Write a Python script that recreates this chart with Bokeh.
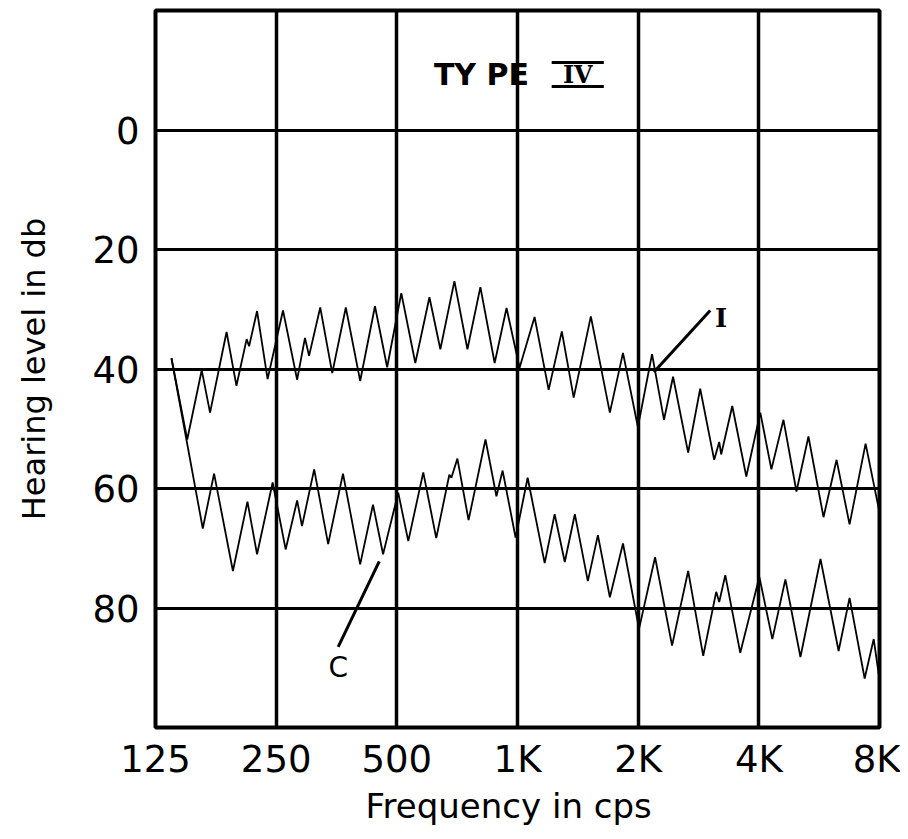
from bokeh.plotting import figure
from bokeh.models import FixedTicker, Range1d, Label, Title, Segment, ColumnDataSource
from bokeh.embed import file_html
from bokeh.resources import INLINE

# ---- data (frequency in cps, hearing level in dB) ----
x_ticks = [125, 250, 500, 1000, 2000, 4000, 8000]
x_tick_labels = ["125", "250", "500", "1K", "2K", "4K", "8K"]
y_ticks = [0, 20, 40, 60, 80]

# Interrupted-tone tracing ("I")
i_freq = [137, 150, 163, 171, 188, 199, 211, 214, 224, 238, 260, 282, 295, 302, 322, 345,
          373, 405, 441, 473, 513, 556, 603, 642, 696, 750, 808, 877, 939, 1012, 1103, 1196,
          1290, 1381, 1524, 1700, 1833, 1997, 2166, 2320, 2444, 2665, 2856, 3095, 3186, 3222,
          3434, 3722, 4034, 4299, 4608, 4965, 5319, 5800, 6251, 6736, 7386, 8000]
i_db = [38.2, 51.8, 40.2, 47.3, 33.8, 42.8, 35.0, 36.2, 30.3, 41.7, 30.2, 41.8, 34.8, 37.8, 29.7, 40.7,
        29.7, 42.0, 29.5, 39.7, 27.3, 39.0, 28.0, 36.7, 25.3, 36.7, 26.3, 39.0, 29.8, 39.8, 31.3, 43.5,
        33.7, 44.8, 31.2, 47.3, 37.3, 49.7, 37.5, 48.5, 41.3, 54.0, 43.3, 55.2, 52.2, 54.3,
        46.2, 58.0, 47.3, 56.8, 48.5, 60.5, 51.3, 64.8, 55.2, 66.0, 52.5, 64.0]

# Continuous-tone tracing ("C")
c_freq = [137, 164, 175, 195, 212, 224, 245, 264, 282, 290, 311, 337, 367, 405, 436, 462,
          504, 534, 582, 627, 676, 684, 708, 755, 832, 886, 918, 989, 1060, 1169, 1238, 1312,
          1390, 1498, 1587, 1700, 1833, 2010, 2204, 2430, 2665, 2906, 3131, 3186, 3299, 3595,
          4012, 4323, 4659, 5080, 5700, 6325, 6736, 7346, 7738, 8000]
c_db = [38.2, 66.7, 57.5, 73.8, 62.2, 71.0, 59.0, 70.2, 62.0, 66.3, 56.8, 69.3, 57.5, 72.7, 62.7, 71.0,
        60.7, 68.8, 57.3, 68.3, 57.7, 58.2, 55.0, 65.3, 51.8, 61.3, 57.0, 68.2, 58.2, 72.5, 64.3, 72.3,
        64.3, 75.5, 67.8, 78.2, 69.2, 83.5, 71.5, 86.3, 73.8, 88.0, 77.3, 79.0, 74.5, 87.5,
        74.8, 85.2, 75.2, 88.2, 71.8, 87.2, 78.3, 91.8, 85.2, 92.0]

FONT = "DejaVu Sans"

p = figure(width=900, height=831, x_axis_type="log",
           x_range=Range1d(125, 8000), y_range=Range1d(100, -20),
           output_backend="svg", toolbar_location=None,
           min_border_left=155, min_border_right=21, min_border_top=10, min_border_bottom=104)

p.background_fill_color = "white"
p.border_fill_color = "white"
p.outline_line_color = "black"
p.outline_line_width = 4

# grids
p.xgrid.ticker = FixedTicker(ticks=x_ticks)
p.ygrid.ticker = FixedTicker(ticks=y_ticks)
p.xgrid.grid_line_color = "black"
p.xgrid.grid_line_width = 3.5
p.ygrid.grid_line_color = "black"
p.ygrid.grid_line_width = 3
p.xgrid.minor_grid_line_color = None
p.ygrid.minor_grid_line_color = None

# axes
xa = p.xaxis[0]
xa.ticker = FixedTicker(ticks=x_ticks)
xa.major_label_overrides = {t: l for t, l in zip(x_ticks, x_tick_labels)}
ya = p.yaxis[0]
ya.ticker = FixedTicker(ticks=y_ticks)
for ax in (xa, ya):
    ax.axis_line_color = None
    ax.major_tick_line_color = None
    ax.minor_tick_line_color = None
    ax.major_tick_out = 0
    ax.minor_tick_out = 0
    ax.major_label_text_font = FONT
    ax.major_label_text_font_style = "normal"
    ax.major_label_text_font_size = "37px"
    ax.major_label_text_color = "black"
xa.major_label_standoff = 10
ya.major_label_standoff = 16
ya.axis_label = "Hearing level in db"
ya.axis_label_text_font = FONT
ya.axis_label_text_font_style = "normal"
ya.axis_label_text_font_size = "32px"
ya.axis_label_text_color = "black"
ya.axis_label_standoff = 36

t = Title(text="Frequency in cps", align="left", offset=210,
          text_font=FONT, text_font_style="normal", text_font_size="34px", text_color="black",
          standoff=0)
p.add_layout(t, "below")

# tracings
p.line(i_freq, i_db, line_color="black", line_width=1.8)
p.line(c_freq, c_db, line_color="black", line_width=1.8)

# annotations
lead = ColumnDataSource(dict(x0=[2190, 452], y0=[40.5, 72.2], x1=[3025, 357], y1=[30.2, 86.5]))
p.add_glyph(lead, Segment(x0="x0", y0="y0", x1="x1", y1="y1", line_color="black", line_width=3))
p.add_layout(Label(x=3220, y=31.5, text="I", text_font="DejaVu Serif", text_font_style="bold",
                   text_font_size="26px", text_align="center", text_baseline="middle",
                   text_color="black"))
p.add_layout(Label(x=357, y=90, text="C", text_font=FONT, text_font_size="28px",
                   text_align="center", text_baseline="middle", text_color="black"))
p.add_layout(Label(x=813, y=-9.3, text="TY PE", text_font=FONT, text_font_style="bold",
                   text_font_size="30px", text_align="center", text_baseline="middle",
                   text_color="black"))
p.add_layout(Label(x=1414, y=-9.3, text="IV", text_font="DejaVu Serif", text_font_style="bold",
                   text_font_size="24px", text_align="center", text_baseline="middle",
                   text_color="black"))
bars = ColumnDataSource(dict(x0=[1217, 1217], y0=[-11.3, -7.3], x1=[1642, 1642], y1=[-11.3, -7.3]))
p.add_glyph(bars, Segment(x0="x0", y0="y0", x1="x1", y1="y1", line_color="black", line_width=3))

open("out.html", "w").write(file_html(p, INLINE))
